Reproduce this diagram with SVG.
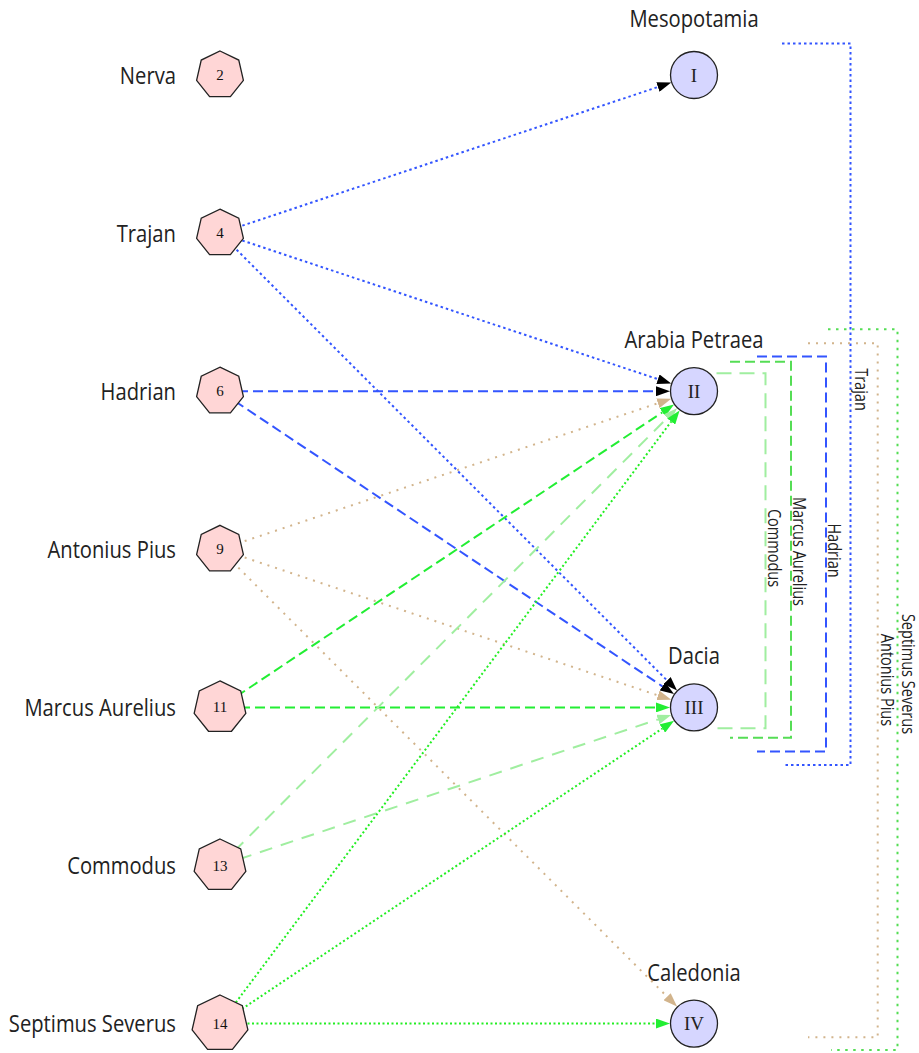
<svg xmlns="http://www.w3.org/2000/svg" xmlns:xlink="http://www.w3.org/1999/xlink" width="919" height="1053" viewBox="0 0 919 1053">
<style>
.lbl{font-family:"Open Sans","Noto Sans",sans-serif;font-size:23.5px;fill:#222}
.rl{font-family:"Open Sans","Noto Sans",sans-serif;font-size:17.5px;fill:#222;text-anchor:middle}
.num{font-family:"Liberation Serif","DejaVu Serif",serif;font-size:15px;fill:#111;text-anchor:middle}
.rom{font-family:"Liberation Serif","DejaVu Serif",serif;font-size:19px;fill:#222;text-anchor:middle}
.hep{fill:#ffd6d6;stroke:#222;stroke-width:1.3}
.reg{fill:#d6d6ff;stroke:#222;stroke-width:1.3}
.e{fill:none;stroke-width:2}
.bdot{stroke:#3355ff;stroke-dasharray:2.5 3}
.bdash{stroke:#3355ff;stroke-dasharray:10 5}
.tdot{stroke:#d2b48c;stroke-dasharray:2 6}
.gdash{stroke:#22ee33;stroke-dasharray:10 5}
.pdash{stroke:#a0eea0;stroke-dasharray:13 9}
.gdot{stroke:#22ee22;stroke-dasharray:2 2.5}
.brk{fill:none;stroke-width:2}
.kb{stroke:#3355ff}
.ktan{stroke:#d2b48c;stroke-dasharray:2 6}
.kg{stroke:#55dd55;stroke-dasharray:10 5}
.kp{stroke:#a0eea0;stroke-dasharray:15 8}
.kgd{stroke:#55dd55;stroke-dasharray:2.5 5.5}
</style>
<defs>
<marker id="aK" viewBox="0 -5 14 10" refX="0" refY="0" markerWidth="14" markerHeight="10" markerUnits="userSpaceOnUse" orient="auto"><path d="M0,-5 L14,0 L0,5 z" fill="#000"/></marker>
<marker id="aT" viewBox="0 -5 14 10" refX="0" refY="0" markerWidth="14" markerHeight="10" markerUnits="userSpaceOnUse" orient="auto"><path d="M0,-5 L14,0 L0,5 z" fill="#d2b48c"/></marker>
<marker id="aG" viewBox="0 -5 14 10" refX="0" refY="0" markerWidth="14" markerHeight="10" markerUnits="userSpaceOnUse" orient="auto"><path d="M0,-5 L14,0 L0,5 z" fill="#22ee33"/></marker>
<marker id="aP" viewBox="0 -5 14 10" refX="0" refY="0" markerWidth="14" markerHeight="10" markerUnits="userSpaceOnUse" orient="auto"><path d="M0,-5 L14,0 L0,5 z" fill="#a0eea0"/></marker>
<polygon id="h24" class="hep" points="0,-24 18.76,-14.96 23.4,5.34 10.41,21.62 -10.41,21.62 -23.4,5.34 -18.76,-14.96"/>
<polygon id="h26" class="hep" points="0,-26.5 20.72,-16.52 25.83,5.9 11.5,23.88 -11.5,23.88 -25.83,5.9 -20.72,-16.52"/>
<polygon id="h29" class="hep" points="0,-28.6 22.36,-17.83 27.88,6.36 12.41,25.77 -12.41,25.77 -27.88,6.36 -22.36,-17.83"/>
</defs>
<rect width="919" height="1053" fill="#fff"/>

<g id="connectors">
<line class="e bdot" x1="237.1" y1="227.4" x2="657.95" y2="87.02" marker-end="url(#aK)"/>
<line class="e bdot" x1="237.1" y1="238.8" x2="657.95" y2="379.18" marker-end="url(#aK)"/>
<line class="e bdot" x1="232.7" y1="245.8" x2="667.14" y2="680.52" marker-end="url(#aK)"/>
<line class="e bdash" x1="238" y1="391.2" x2="656" y2="391.2" marker-end="url(#aK)"/>
<line class="e bdash" x1="235" y1="401.2" x2="662.39" y2="686.31" marker-end="url(#aK)"/>
<line class="e tdot" x1="237.1" y1="543.6" x2="657.95" y2="403.22" marker-end="url(#aT)"/>
<line class="e tdot" x1="237.1" y1="555" x2="657.95" y2="695.38" marker-end="url(#aT)"/>
<line class="e tdot" x1="232.7" y1="562" x2="667.14" y2="996.72" marker-end="url(#aT)"/>
<line class="e gdash" x1="236.6" y1="696.3" x2="662.39" y2="412.29" marker-end="url(#aG)"/>
<line class="e gdash" x1="240" y1="707.4" x2="656" y2="707.4" marker-end="url(#aG)"/>
<line class="e pdash" x1="234.1" y1="851.4" x2="667.14" y2="418.08" marker-end="url(#aP)"/>
<line class="e pdash" x1="239" y1="859.2" x2="657.95" y2="719.42" marker-end="url(#aP)"/>
<line class="e gdot" x1="233.2" y1="1006" x2="671.21" y2="421.61" marker-end="url(#aG)"/>
<line class="e gdot" x1="238.3" y1="1011.4" x2="662.39" y2="728.49" marker-end="url(#aG)"/>
<line class="e gdot" x1="243" y1="1023.6" x2="656" y2="1023.6" marker-end="url(#aG)"/>
</g>

<g id="brackets">
<path class="brk kb" stroke-dasharray="2.5 3" d="M782,43.5 H850.5 V765 H784"/>
<path class="brk kb" stroke-dasharray="10 5" d="M757,356.5 H826 V751.5 H757"/>
<path class="brk kg" d="M730,361.7 H791 V737.7 H730"/>
<path class="brk kp" d="M716.5,373.3 H765.5 V728.3 H716"/>
<path class="brk ktan" d="M808,343.3 H877.7 V1037.3 H808"/>
<path class="brk kgd" d="M828,329.3 H897.5 V1050 H831"/>
<text class="rl" transform="translate(855,389.5) rotate(90) scale(0.83,1)">Trajan</text>
<text class="rl" transform="translate(827.5,550.5) rotate(90) scale(0.83,1)">Hadrian</text>
<text class="rl" transform="translate(792.5,551.5) rotate(90) scale(0.83,1)">Marcus Aurelius</text>
<text class="rl" transform="translate(768,548) rotate(90) scale(0.83,1)">Commodus</text>
<text class="rl" transform="translate(902,674) rotate(90) scale(0.83,1)">Septimus Severus</text>
<text class="rl" transform="translate(881,680) rotate(90) scale(0.83,1)">Antonius Pius</text>
</g>

<g id="n-nerva"><use xlink:href="#h24" href="#h24" x="220" y="75"/><text class="num" x="220" y="80">2</text><text class="lbl" text-anchor="end" transform="translate(176,83.6) scale(0.86,1)">Nerva</text></g>
<g id="n-trajan"><use xlink:href="#h24" href="#h24" x="220" y="233.1"/><text class="num" x="220" y="238.1">4</text><text class="lbl" text-anchor="end" transform="translate(176,241.7) scale(0.86,1)">Trajan</text></g>
<g id="n-hadrian"><use xlink:href="#h24" href="#h24" x="220" y="391.2"/><text class="num" x="220" y="396.2">6</text><text class="lbl" text-anchor="end" transform="translate(176,399.8) scale(0.86,1)">Hadrian</text></g>
<g id="n-antonius"><use xlink:href="#h24" href="#h24" x="220" y="549.3"/><text class="num" x="220" y="554.3">9</text><text class="lbl" text-anchor="end" transform="translate(176,557.9) scale(0.86,1)">Antonius Pius</text></g>
<g id="n-marcus"><use xlink:href="#h26" href="#h26" x="220" y="707.4"/><text class="num" x="220" y="712.4">11</text><text class="lbl" text-anchor="end" transform="translate(176,716) scale(0.86,1)">Marcus Aurelius</text></g>
<g id="n-commodus"><use xlink:href="#h26" href="#h26" x="220" y="865.5"/><text class="num" x="220" y="870.5">13</text><text class="lbl" text-anchor="end" transform="translate(176,874.1) scale(0.86,1)">Commodus</text></g>
<g id="n-septimus"><use xlink:href="#h29" href="#h29" x="220" y="1023.6"/><text class="num" x="220" y="1028.6">14</text><text class="lbl" text-anchor="end" transform="translate(176,1032.2) scale(0.86,1)">Septimus Severus</text></g>

<g id="r-mesopotamia"><circle class="reg" cx="694" cy="75" r="23.5"/><text class="rom" x="694" y="81.5">I</text><text class="lbl" text-anchor="middle" transform="translate(694,26.7) scale(0.86,1)">Mesopotamia</text></g>
<g id="r-arabia"><circle class="reg" cx="694" cy="391.2" r="23.5"/><text class="rom" x="694" y="397.7">II</text><text class="lbl" text-anchor="middle" transform="translate(694,348.3) scale(0.86,1)">Arabia Petraea</text></g>
<g id="r-dacia"><circle class="reg" cx="694" cy="707.4" r="23.5"/><text class="rom" x="694" y="713.9">III</text><text class="lbl" text-anchor="middle" transform="translate(694,664.3) scale(0.86,1)">Dacia</text></g>
<g id="r-caledonia"><circle class="reg" cx="694" cy="1023.6" r="23.5"/><text class="rom" x="694" y="1030.1">IV</text><text class="lbl" text-anchor="middle" transform="translate(694,980.7) scale(0.86,1)">Caledonia</text></g>
</svg>
